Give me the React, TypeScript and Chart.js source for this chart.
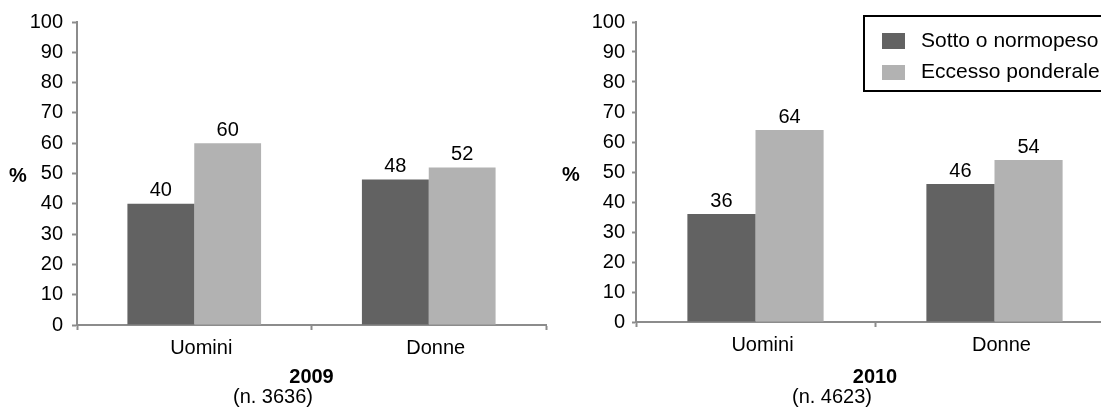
import React, { useEffect, useRef } from "react";
import { Chart, registerables } from "chart.js";

Chart.register(...registerables);

// ---------- data ----------
const categories = ["Uomini", "Donne"];
const seriesLabels = ["Sotto o normopeso", "Eccesso ponderale"];
const underweight2009 = [40, 48];
const excess2009 = [60, 52];
const underweight2010 = [36, 46];
const excess2010 = [64, 54];
const yMin = 0;
const yMax = 100;
const yStep = 10;
const years = ["2009", "2010"];
const sampleSizes = ["(n. 3636)", "(n. 4623)"];
const axisUnit = "%";

// ---------- style ----------
const DARK = "#626262";
const LIGHT = "#b2b2b2";
const AXIS = "#8c8c8c";
const FONT = "'Liberation Sans', Arial, Helvetica, sans-serif";

type PanelProps = {
  left: number;
  width: number;
  year: string;
  sample: string;
  under: number[];
  excess: number[];
  yAxisWidth: number;
  yTickLength: number;
  yTickPadding: number;
  top: number;
  xAxisHeight: number;
  rightPad: number;
  percentX: number;
  showLegend: boolean;
};

const HEIGHT = 412;

function Panel(p: PanelProps) {
  const ref = useRef<HTMLCanvasElement | null>(null);

  useEffect(() => {
    if (!ref.current) return;

    const valueLabels = {
      id: "valueLabels",
      afterDatasetsDraw(chart: any) {
        const ctx = chart.ctx;
        ctx.save();
        ctx.font = `20px ${FONT}`;
        ctx.fillStyle = "#000";
        ctx.textAlign = "center";
        ctx.textBaseline = "middle";
        chart.data.datasets.forEach((ds: any, i: number) => {
          const meta = chart.getDatasetMeta(i);
          meta.data.forEach((el: any, j: number) => {
            ctx.fillText(String(ds.data[j]), el.x, el.y - 13);
          });
        });
        ctx.restore();
      },
    };

    const percentLabel = {
      id: "percentLabel",
      afterDraw(chart: any) {
        const ctx = chart.ctx;
        const y = chart.scales.y.getPixelForValue(50) + 3;
        ctx.save();
        ctx.font = `bold 20px ${FONT}`;
        ctx.fillStyle = "#000";
        ctx.textAlign = "center";
        ctx.textBaseline = "middle";
        ctx.fillText(axisUnit, p.percentX, y);
        ctx.restore();
      },
    };

    const boxLegend = {
      id: "boxLegend",
      afterDraw(chart: any) {
        if (!p.showLegend) return;
        const ctx = chart.ctx;
        ctx.save();
        ctx.strokeStyle = "#000";
        ctx.lineWidth = 2;
        ctx.strokeRect(314, 16, 300, 75);
        const rows = [
          { y: 33, h: 16, ty: 41 },
          { y: 65, h: 15, ty: 72 },
        ];
        chart.data.datasets.forEach((ds: any, i: number) => {
          const r = rows[i];
          ctx.fillStyle = ds.backgroundColor;
          ctx.fillRect(332, r.y, 23, r.h);
          ctx.fillStyle = "#000";
          ctx.font = `21px ${FONT}`;
          ctx.textAlign = "left";
          ctx.textBaseline = "middle";
          ctx.fillText(ds.label, 371, r.ty);
        });
        ctx.restore();
      },
    };

    const chart = new Chart(ref.current, {
      type: "bar",
      data: {
        labels: categories,
        datasets: [
          {
            label: seriesLabels[0],
            data: p.under,
            backgroundColor: DARK,
            borderWidth: 0,
            categoryPercentage: 0.57,
            barPercentage: 1,
          },
          {
            label: seriesLabels[1],
            data: p.excess,
            backgroundColor: LIGHT,
            borderWidth: 0,
            categoryPercentage: 0.57,
            barPercentage: 1,
          },
        ],
      },
      options: {
        responsive: false,
        maintainAspectRatio: false,
        animation: false,
        devicePixelRatio: 1,
        layout: {
          padding: { left: 0, right: p.rightPad, top: p.top, bottom: 5 },
        },
        plugins: {
          legend: { display: false },
          tooltip: { enabled: false },
          title: { display: false },
          subtitle: {
            display: true,
            position: "bottom",
            text: p.sample,
            color: "#000",
            font: { family: FONT, size: 20, weight: "normal", lineHeight: 1 },
            padding: { top: 0, bottom: 0 },
          },
        },
        scales: {
          x: {
            afterFit(scale: any) {
              scale.height = p.xAxisHeight;
            },
            border: { display: true, color: AXIS, width: 2 },
            grid: {
              display: true,
              drawOnChartArea: false,
              drawTicks: true,
              tickLength: 5,
              tickColor: AXIS,
              tickWidth: 2,
              offset: true,
            },
            ticks: {
              color: "#000",
              font: { family: FONT, size: 20 },
              padding: 6,
              labelOffset: 7,
              maxRotation: 0,
            },
            title: {
              display: true,
              text: p.year,
              color: "#000",
              font: { family: FONT, size: 20, weight: "bold", lineHeight: 1 },
              padding: { top: 0, bottom: 0 },
            },
          },
          y: {
            min: yMin,
            max: yMax,
            afterFit(scale: any) {
              scale.width = p.yAxisWidth;
            },
            border: { display: true, color: AXIS, width: 2 },
            grid: {
              display: true,
              drawOnChartArea: false,
              drawTicks: true,
              tickLength: p.yTickLength,
              tickColor: AXIS,
              tickWidth: 2,
            },
            ticks: {
              stepSize: yStep,
              color: "#000",
              font: { family: FONT, size: 20 },
              padding: p.yTickPadding,
            },
          },
        },
      },
      plugins: [valueLabels, percentLabel, boxLegend],
    } as any);

    return () => chart.destroy();
  }, []);

  return (
    <canvas
      ref={ref}
      width={p.width}
      height={HEIGHT}
      style={{
        position: "absolute",
        left: p.left,
        top: 0,
        width: p.width,
        height: HEIGHT,
        display: "block",
      }}
    />
  );
}

export default function App() {
  return (
    <div
      style={{
        position: "absolute",
        left: 0,
        top: 0,
        width: 1101,
        height: HEIGHT,
        overflow: "hidden",
        background: "#fff",
      }}
    >
      <Panel
        left={0}
        width={550}
        year={years[0]}
        sample={sampleSizes[0]}
        under={underweight2009}
        excess={excess2009}
        yAxisWidth={77}
        yTickLength={5}
        yTickPadding={9}
        top={22}
        xAxisHeight={62}
        rightPad={4}
        percentX={18}
        showLegend={false}
      />
      <Panel
        left={550}
        width={580}
        year={years[1]}
        sample={sampleSizes[1]}
        under={underweight2010}
        excess={excess2010}
        yAxisWidth={86}
        yTickLength={4}
        yTickPadding={7}
        top={22}
        xAxisHeight={65}
        rightPad={16}
        percentX={21}
        showLegend={true}
      />
    </div>
  );
}
